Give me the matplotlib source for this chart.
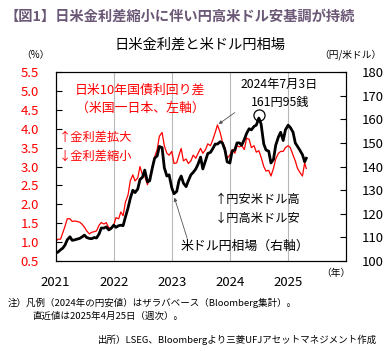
import matplotlib
matplotlib.use("Agg")
import matplotlib.pyplot as plt
import matplotlib.dates as mdates
import pandas as pd

plt.rcParams['font.family'] = ['Noto Sans CJK JP', 'DejaVu Sans']

# 半月ごとの読み取り値 (2021/1/1 ～ 2025/4/25)
fechas = list(pd.date_range('2021-01-01', '2025-04-15', freq='SMS')) + [pd.Timestamp('2025-04-25')]

diferencial = [  # 日米10年国債利回り差 (%)
    1.02, 1.08, 1.08, 1.25, 1.42, 1.62, 1.62, 1.55, 1.56, 1.55, 1.53, 1.48,
    1.40, 1.30, 1.22, 1.26, 1.28, 1.30, 1.45, 1.52, 1.48, 1.52, 1.38, 1.38,
    1.45, 1.65, 1.62, 1.80, 1.70, 2.05, 2.25, 2.62, 2.78, 2.62, 2.70, 3.00,
    2.78, 2.75, 2.52, 2.70, 3.02, 3.25, 3.45, 3.80, 3.90, 3.55, 3.35, 3.30,
    3.40, 3.08, 3.10, 3.30, 3.48, 3.15, 3.20, 3.08, 3.15, 3.30, 3.22, 3.35,
    3.48, 3.35, 3.45, 3.60, 3.55, 3.70, 3.90, 4.10, 3.90, 3.65, 3.50, 3.22,
    3.30, 3.45, 3.35, 3.55, 3.52, 3.55, 3.45, 3.75, 3.72, 3.50, 3.55, 3.38,
    3.42, 3.25, 3.00, 2.88, 2.90, 2.75, 2.95, 3.20, 3.35, 3.40, 3.40, 3.50,
    3.55, 3.50, 3.30, 3.15, 2.95, 2.85, 2.75, 3.10, 2.95,
]

usdjpy = [  # 米ドル円 (円/米ドル)
    103.5, 103.8, 104.8, 105.5, 106.8, 109.0, 110.3, 108.8, 109.0, 109.3, 109.6, 110.2,
    111.0, 110.0, 109.6, 109.5, 110.0, 109.8, 111.5, 114.0, 114.0, 114.5, 113.2, 113.8,
    115.2, 114.3, 115.0, 115.2, 115.0, 118.5, 122.5, 126.5, 130.0, 129.0, 130.5, 134.5,
    135.5, 138.5, 133.5, 134.0, 139.5, 143.5, 144.5, 148.5, 148.0, 139.5, 136.0, 136.5,
    131.0, 128.5, 129.5, 134.0, 136.0, 133.0, 131.5, 134.0, 136.5, 137.5, 139.0, 141.0,
    144.0, 139.0, 142.5, 145.5, 146.0, 147.5, 149.5, 149.5, 150.5, 150.0, 147.0, 142.0,
    141.5, 146.5, 147.0, 150.0, 150.0, 149.0, 151.5, 154.0, 156.0, 155.5, 157.0, 157.5,
    160.5, 158.0, 149.5, 147.0, 146.5, 141.5, 143.0, 149.0, 152.5, 154.5, 151.0, 155.5,
    157.5, 156.5, 154.5, 150.0, 148.5, 147.0, 145.0, 142.0, 143.5,
]

anios = ['2021', '2022', '2023', '2024', '2025']
ticks_izq = [0.5, 1.0, 1.5, 2.0, 2.5, 3.0, 3.5, 4.0, 4.5, 5.0, 5.5]
ticks_der = [100, 110, 120, 130, 140, 150, 160, 170, 180]

fig = plt.figure(figsize=(3.89, 3.51), dpi=100)
ax = fig.add_axes([0.143, 0.256, 0.747, 0.539])
ax2 = ax.twinx()

x = mdates.date2num(fechas)
ax.plot(x, diferencial, color='#ff0000', lw=0.9)
ax2.plot(x, usdjpy, color='black', lw=2.0)

ax.set_xlim(mdates.date2num(pd.Timestamp('2021-01-01')), mdates.date2num(pd.Timestamp('2026-01-01')))
ax.set_ylim(0.5, 5.5)
ax2.set_ylim(100, 180)

xt = [mdates.date2num(pd.Timestamp(a + '-01-01')) for a in anios]
ax.set_xticks(xt)
ax.set_xticklabels(anios, fontsize=9.5)
ax.grid(axis='x', color='#b8b8b8', lw=0.8)
ax.tick_params(axis='x', length=0, pad=11)

ax.set_yticks(ticks_izq)
ax.set_yticklabels([f'{v:.1f}' for v in ticks_izq], color='#ff0000', fontsize=9.5)
ax.tick_params(axis='y', direction='in', length=4, pad=12)
ax2.set_yticks(ticks_der)
ax2.set_yticklabels([str(v) for v in ticks_der], fontsize=9.5)
ax2.tick_params(axis='y', direction='in', length=4, pad=11)

# 円安値の丸
pico = mdates.date2num(pd.Timestamp('2024-07-03'))
ax2.plot([pico], [161.95], marker='o', ms=8, mfc='none', mec='black', mew=0.9)

# 矢印
ax.annotate('', xy=(mdates.date2num(pd.Timestamp('2023-10-08')), 4.08),
            xytext=(237 / 389, 1 - 111 / 351), textcoords='figure fraction',
            arrowprops=dict(arrowstyle='-|>', color='#555555', lw=0.6, mutation_scale=5))
ax2.annotate('', xy=(mdates.date2num(pd.Timestamp('2023-01-12')), 128.0),
             xytext=(188 / 389, 1 - 241 / 351), textcoords='figure fraction',
             arrowprops=dict(arrowstyle='-|>', color='#555555', lw=0.6, mutation_scale=5))

def ftext(px, py, s, **kw):
    fig.text(px / 389, 1 - py / 351, s, **kw)

ftext(4, 17, '【図1】日米金利差縮小に伴い円高米ドル安基調が持続', fontsize=10.3,
      fontweight='bold', color='#6b5876', va='center')
ftext(200, 45, '日米金利差と米ドル円相場', fontsize=10.3, ha='center', va='center')
ftext(35, 55, '（%）', fontsize=7, ha='center', va='center')
ftext(350, 55, '（円/米ドル）', fontsize=7, ha='center', va='center')
ftext(336, 273, '（年）', fontsize=7, ha='center', va='center')

ftext(140, 90, '日米10年国債利回り差', fontsize=9.3, color='#ff0000', ha='center', va='center')
ftext(140, 108, '（米国一日本、左軸）', fontsize=9.3, color='#ff0000', ha='center', va='center')
ftext(59, 137, '↑金利差拡大', fontsize=8.8, color='#ff0000', style='italic', va='center')
ftext(59, 156, '↓金利差縮小', fontsize=8.8, color='#ff0000', style='italic', va='center')
ftext(279, 84, '2024年7月3日', fontsize=8.8, style='italic', ha='center', va='center')
ftext(280, 102, '161円95銭', fontsize=8.8, style='italic', ha='center', va='center')
ftext(215, 200, '↑円安米ドル高', fontsize=8.8, style='italic', va='center')
ftext(215, 218, '↓円高米ドル安', fontsize=8.8, style='italic', va='center')
ftext(181, 246, '米ドル円相場（右軸）', fontsize=9.3, va='center')

ftext(8, 303, '注）凡例（2024年の円安値）はザラバベース（Bloomberg集計）。', fontsize=6.8, va='center')
ftext(32, 316, '直近値は2025年4月25日（週次）。', fontsize=6.8, va='center')
ftext(377, 340, '出所）LSEG、Bloombergより三菱UFJアセットマネジメント作成', fontsize=6.8,
      ha='right', va='center')

fig.savefig('out.png', dpi=100)
